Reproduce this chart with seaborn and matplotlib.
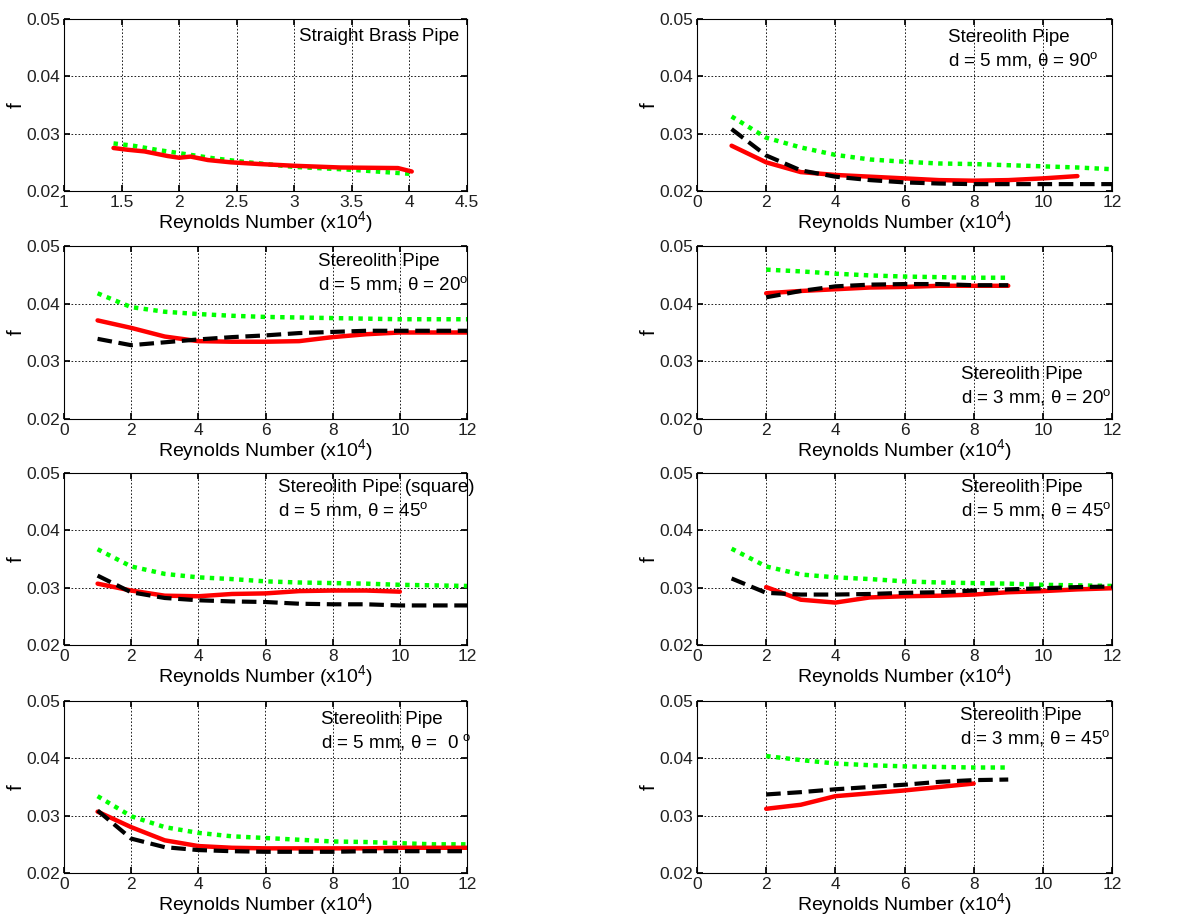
import seaborn as sns
import matplotlib.pyplot as plt
import pandas as pd

sns.set_theme(style='ticks')
plt.rcParams['font.family'] = ['Liberation Sans', 'DejaVu Sans']
plt.rcParams['mathtext.fontset'] = 'custom'
plt.rcParams['mathtext.rm'] = 'Liberation Sans'
plt.rcParams['mathtext.it'] = 'Liberation Sans:italic'
plt.rcParams['text.color'] = 'black'
plt.rcParams['axes.labelcolor'] = 'black'

# --- data (Re in units of 1e4, friction factor f) ---
# straight brass pipe
brass_re = [1.43, 1.55, 1.7, 1.9, 2.0, 2.1, 2.25, 2.45, 2.7, 3.0, 3.4, 3.9, 4.02]
brass_red = [0.0275, 0.0272, 0.0269, 0.0261, 0.0258, 0.0260, 0.0254, 0.0250, 0.0247, 0.0244, 0.0241, 0.0240, 0.0234]
brass_green_re = [1.43, 1.6, 1.8, 2.0, 2.3, 2.6, 3.0, 3.5, 4.0]
brass_green = [0.0283, 0.0279, 0.0272, 0.0266, 0.0257, 0.0250, 0.0242, 0.0237, 0.0230]

# d = 5 mm, theta = 90
d5t90_re_red = [1, 2, 3, 4, 5, 6, 7, 8, 9, 10, 11]
d5t90_red = [0.0279, 0.0250, 0.0233, 0.0228, 0.0225, 0.0222, 0.0219, 0.0218, 0.0219, 0.0222, 0.0226]
d5t90_re = [1, 2, 3, 4, 5, 6, 7, 8, 9, 10, 11, 12]
d5t90_black = [0.0308, 0.0262, 0.0236, 0.0225, 0.0219, 0.0215, 0.0213, 0.0212, 0.0212, 0.0212, 0.0212, 0.0212]
d5t90_green = [0.0330, 0.0293, 0.0276, 0.0263, 0.0255, 0.0251, 0.0248, 0.0247, 0.0245, 0.0243, 0.0241, 0.0238]

# d = 5 mm, theta = 20
d5t20_re = [1, 2, 3, 4, 5, 6, 7, 8, 9, 10, 11, 12]
d5t20_red = [0.0371, 0.0358, 0.0343, 0.0335, 0.0334, 0.0334, 0.0335, 0.0342, 0.0347, 0.0350, 0.0350, 0.0350]
d5t20_black = [0.0339, 0.0328, 0.0333, 0.0338, 0.0342, 0.0345, 0.0349, 0.0351, 0.0353, 0.0353, 0.0353, 0.0353]
d5t20_green = [0.0418, 0.0394, 0.0386, 0.0382, 0.0379, 0.0377, 0.0376, 0.0375, 0.0374, 0.0373, 0.0373, 0.0373]

# d = 3 mm, theta = 20
d3t20_re = [2, 3, 4, 5, 6, 7, 8, 9]
d3t20_red = [0.0418, 0.0422, 0.0425, 0.0428, 0.0429, 0.0431, 0.0431, 0.0431]
d3t20_black = [0.0411, 0.0422, 0.0430, 0.0433, 0.0434, 0.0434, 0.0432, 0.0432]
d3t20_green = [0.0459, 0.0456, 0.0452, 0.0449, 0.0447, 0.0446, 0.0445, 0.0445]

# square, d = 5 mm, theta = 45
sq45_re_red = [1, 2, 3, 4, 5, 6, 7, 8, 9, 10]
sq45_red = [0.0307, 0.0295, 0.0286, 0.0285, 0.0289, 0.0290, 0.0294, 0.0295, 0.0295, 0.0293]
sq45_re = [1, 2, 3, 4, 5, 6, 7, 8, 9, 10, 11, 12]
sq45_black = [0.0321, 0.0292, 0.0282, 0.0278, 0.0276, 0.0275, 0.0272, 0.0271, 0.0271, 0.0269, 0.0269, 0.0269]
sq45_green = [0.0367, 0.0337, 0.0324, 0.0318, 0.0315, 0.0311, 0.0309, 0.0308, 0.0307, 0.0305, 0.0304, 0.0303]

# d = 5 mm, theta = 45
d5t45_re_red = [2, 3, 4, 5, 6, 7, 8, 9, 10, 11, 12]
d5t45_red = [0.0301, 0.0279, 0.0274, 0.0283, 0.0285, 0.0286, 0.0288, 0.0292, 0.0294, 0.0297, 0.0299]
d5t45_re = [1, 2, 3, 4, 5, 6, 7, 8, 9, 10, 11, 12]
d5t45_black = [0.0316, 0.0291, 0.0288, 0.0288, 0.0289, 0.0291, 0.0292, 0.0295, 0.0297, 0.0299, 0.0301, 0.0302]
d5t45_green = [0.0368, 0.0337, 0.0323, 0.0318, 0.0315, 0.0311, 0.0309, 0.0308, 0.0307, 0.0305, 0.0304, 0.0303]

# d = 5 mm, theta = 0
d5t0_re = [1, 2, 3, 4, 5, 6, 7, 8, 9, 10, 11, 12]
d5t0_red = [0.0307, 0.0280, 0.0257, 0.0247, 0.0244, 0.0243, 0.0243, 0.0243, 0.0243, 0.0244, 0.0244, 0.0244]
d5t0_black = [0.0309, 0.0260, 0.0245, 0.0240, 0.0238, 0.0237, 0.0237, 0.0237, 0.0238, 0.0238, 0.0238, 0.0238]
d5t0_green = [0.0334, 0.0299, 0.0280, 0.0270, 0.0264, 0.0261, 0.0258, 0.0255, 0.0254, 0.0252, 0.0250, 0.0250]

# d = 3 mm, theta = 45
d3t45_re_red = [2, 3, 4, 5, 6, 7, 8]
d3t45_red = [0.0312, 0.0319, 0.0334, 0.0339, 0.0344, 0.0350, 0.0356]
d3t45_re = [2, 3, 4, 5, 6, 7, 8, 9]
d3t45_black = [0.0337, 0.0341, 0.0346, 0.0350, 0.0354, 0.0359, 0.0362, 0.0363]
d3t45_green = [0.0404, 0.0397, 0.0391, 0.0388, 0.0386, 0.0385, 0.0384, 0.0384]

deg = r'$^{\mathrm{o}}$'
labels = [
    'Straight Brass Pipe',
    'Stereolith Pipe\nd = 5 mm, θ = 90' + deg,
    'Stereolith Pipe\nd = 5 mm, θ = 20' + deg,
    'Stereolith Pipe\nd = 3 mm, θ = 20' + deg,
    'Stereolith Pipe (square)\nd = 5 mm, θ = 45' + deg,
    'Stereolith Pipe\nd = 5 mm, θ = 45' + deg,
    'Stereolith Pipe\nd = 5 mm, θ =  0 ' + deg,
    'Stereolith Pipe\nd = 3 mm, θ = 45' + deg,
]

# (green, red, black) series per panel, each as (re, f) or None
panels = [
    ((brass_green_re, brass_green), (brass_re, brass_red), None),
    ((d5t90_re, d5t90_green), (d5t90_re_red, d5t90_red), (d5t90_re, d5t90_black)),
    ((d5t20_re, d5t20_green), (d5t20_re, d5t20_red), (d5t20_re, d5t20_black)),
    ((d3t20_re, d3t20_green), (d3t20_re, d3t20_red), (d3t20_re, d3t20_black)),
    ((sq45_re, sq45_green), (sq45_re_red, sq45_red), (sq45_re, sq45_black)),
    ((d5t45_re, d5t45_green), (d5t45_re_red, d5t45_red), (d5t45_re, d5t45_black)),
    ((d5t0_re, d5t0_green), (d5t0_re, d5t0_red), (d5t0_re, d5t0_black)),
    ((d3t45_re, d3t45_green), (d3t45_re_red, d3t45_red), (d3t45_re, d3t45_black)),
]

text_pos = [(0.583, 0.945), (0.605, 0.94), (0.63, 0.96), (0.636, 0.305),
            (0.531, 0.965), (0.636, 0.965), (0.638, 0.94), (0.634, 0.965)]

styles = [
    dict(color='#00ff00', linestyle=(0, (1, 1.2)), linewidth=3.2),
    dict(color='#ff0000', linestyle='-', linewidth=3.2),
    dict(color='black', linestyle=(0, (3.5, 1.6)), linewidth=3.0),
]

W, H = 1183, 916
fig = plt.figure(figsize=(W / 100, H / 100), dpi=100)
cols = [(64, 403), (697, 415)]
rows = [(19, 191), (246, 419), (473, 645), (701, 873)]

for i, (series, label, tpos) in enumerate(zip(panels, labels, text_pos)):
    r, c = divmod(i, 2)
    x0, w = cols[c]
    top, bot = rows[r]
    ax = fig.add_axes([x0 / W, 1 - bot / H, w / W, (bot - top) / H])
    for s, st in zip(series, styles):
        if s is None:
            continue
        df = pd.DataFrame({'re': s[0], 'f': s[1]})
        sns.lineplot(data=df, x='re', y='f', estimator=None, ax=ax, **st)
    if i == 0:
        ax.set_xlim(1, 4.5)
        ax.set_xticks([1, 1.5, 2, 2.5, 3, 3.5, 4, 4.5])
        ax.set_xticklabels(['1', '1.5', '2', '2.5', '3', '3.5', '4', '4.5'])
    else:
        ax.set_xlim(0, 12)
        ax.set_xticks(range(0, 13, 2))
    ax.set_ylim(0.02, 0.05)
    ax.set_yticks([0.02, 0.03, 0.04, 0.05])
    ax.set_yticklabels(['0.02', '0.03', '0.04', '0.05'])
    ax.grid(True, color='black', linestyle=(0, (2, 2.2)), linewidth=0.6)
    ax.tick_params(direction='in', length=4, labelsize=12.5, top=True, right=True,
                   color='black', labelcolor='#202020', pad=3)
    for sp in ax.spines.values():
        sp.set_color('black')
        sp.set_linewidth(0.8)
    ax.set_xlabel('Reynolds Number (x10$^4$)', fontsize=14, labelpad=-1)
    ax.set_ylabel('f', fontsize=15, labelpad=0)
    ax.text(tpos[0], tpos[1], label, transform=ax.transAxes, ha='left', va='top',
            fontsize=13.5, linespacing=1.25)

fig.savefig('out.png', dpi=100)
